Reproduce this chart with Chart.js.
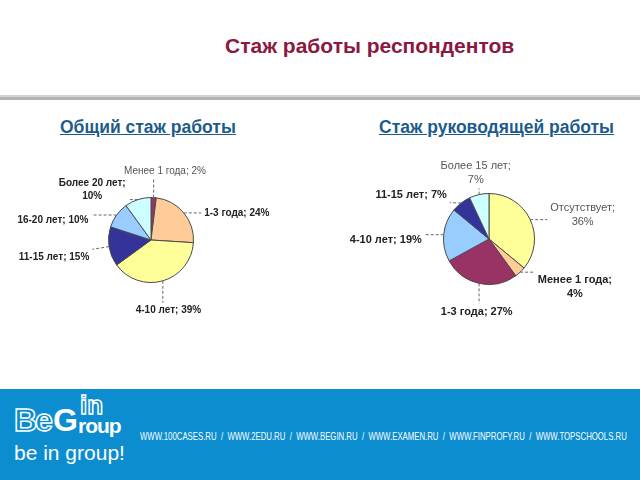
<!DOCTYPE html>
<html lang="ru">
<head>
<meta charset="utf-8">
<script src="https://cdn.jsdelivr.net/npm/chart.js@4.4.0/dist/chart.umd.min.js"></script>
<style>
  html, body { margin: 0; padding: 0; background: #fff; }
  body { width: 640px; height: 480px; position: relative; overflow: hidden; font-family: "Liberation Sans", Arial, sans-serif; }
  .title { position: absolute; left: 225px; top: 34px; font-size: 21px; font-weight: bold; color: #8c1840; white-space: nowrap; }
  .rule { position: absolute; left: 0; width: 640px; top: 95px; height: 2px; background: #d4d4d4; }
  .rule2 { position: absolute; left: 0; width: 640px; top: 97px; height: 3px; background: #b3b3b3; }
  .sub { position: absolute; top: 117px; font-size: 17.5px; font-weight: bold; color: #1d5b8c; text-decoration: underline; white-space: nowrap; }
  canvas { position: absolute; top: 140px; }
  .footer { position: absolute; left: 0; top: 389px; width: 640px; height: 91px; background: #0b8dd0; }
  .urls { position: absolute; left: 140px; top: 430px; color: #fff; font-size: 11px; white-space: nowrap; transform-origin: 0 0; }
  .logo { position: absolute; color: #fff; white-space: nowrap; line-height: 1; font-family: "Liberation Sans", Arial, sans-serif; }
  .outline { color: transparent; -webkit-text-stroke: 1.5px #fff; }
</style>
</head>
<body>
<div class="title">Стаж работы респондентов</div>
<div class="rule"></div>
<div class="rule2"></div>
<div class="sub" style="left:60px">Общий стаж работы</div>
<div class="sub" style="left:379px">Стаж руководящей работы</div>

<canvas id="left-pie" width="320" height="200" style="left:0"></canvas>
<canvas id="right-pie" width="320" height="200" style="left:320px"></canvas>

<div class="footer"></div>
<div class="logo outline" style="left:14px;top:404px;font-size:32px;font-weight:bold;letter-spacing:-2px">Be</div>
<div class="logo" style="left:53px;top:404px;font-size:32px;font-weight:bold">G</div>
<div class="logo outline" style="left:80px;top:392px;font-size:26px;font-weight:bold">in</div>
<div class="logo" style="left:78px;top:415px;font-size:21px;font-weight:bold;letter-spacing:-1px">roup</div>
<div class="logo" style="left:14px;top:442px;font-size:21px">be in group!</div>
<div class="urls" id="urls">WWW.100CASES.RU &nbsp;/&nbsp; WWW.2EDU.RU &nbsp;/&nbsp; WWW.BEGIN.RU &nbsp;/&nbsp; WWW.EXAMEN.RU &nbsp;/&nbsp; WWW.FINPROFY.RU &nbsp;/&nbsp; WWW.TOPSCHOOLS.RU</div>

<script>
// --- DATA ---
const leftCategories = ['Менее 1 года', '1-3 года', '4-10 лет', '11-15 лет', '16-20 лет', 'Более 20 лет'];
const leftValues = [2, 24, 39, 15, 10, 10];
const leftColors = ['#993366', '#ffcc99', '#ffff99', '#333399', '#99ccff', '#ccffff'];

const rightCategories = ['Отсутствует', 'Менее 1 года', '1-3 года', '4-10 лет', '11-15 лет', 'Более 15 лет'];
const rightValues = [36, 4, 27, 19, 7, 7];
const rightColors = ['#ffff99', '#ffcc99', '#993366', '#99ccff', '#333399', '#ccffff'];

// --- LABEL LAYOUT (text placement only) ---
const leftLabelLayout = {
    fontSize: 10,
    wrap: [5],
    light: [0],
    nudge: [[10, 0], [5, 17], [0, 4], [0, 6], [-12, 21], [-6, 22]]
};
const rightLabelLayout = {
    fontSize: 11,
    wrap: [0, 1, 5],
    light: [0, 5],
    nudge: [[2, 10], [4, -10], [2, 2], [-2, 8], [-2, 13], [1, 12]]
};

// fit the url line into the footer
const urls = document.getElementById('urls');
urls.style.transform = 'scaleX(' + (487 / urls.offsetWidth) + ')';

const calloutPlugin = {
    id: 'callouts',
    afterDatasetsDraw(chart, args, opts) {
        const ctx = chart.ctx;
        const meta = chart.getDatasetMeta(0);
        const cats = chart.data.labels;
        const vals = chart.data.datasets[0].data;
        const lh = Math.round(opts.fontSize * 1.3);
        ctx.save();
        meta.data.forEach((arc, i) => {
            const p = arc.getProps(['x', 'y', 'startAngle', 'endAngle', 'outerRadius'], true);
            const mid = (p.startAngle + p.endAngle) / 2;
            const ux = Math.cos(mid), uy = Math.sin(mid);
            const lines = opts.wrap.includes(i)
                ? [cats[i] + ';', vals[i] + '%']
                : [cats[i] + '; ' + vals[i] + '%'];
            const light = opts.light.includes(i);
            ctx.font = (light ? '' : 'bold ') + opts.fontSize + 'px "Liberation Sans", Arial, sans-serif';
            const w = Math.max(...lines.map(l => ctx.measureText(l).width));
            const h = lines.length * lh;
            const ax = p.x + ux * (p.outerRadius + opts.gap) + opts.nudge[i][0];
            const ay = p.y + uy * (p.outerRadius + opts.gap) + opts.nudge[i][1];
            const left = ux > 0.3 ? ax : (ux < -0.3 ? ax - w : ax - w / 2);
            const top = ay - h / 2 + uy * h / 2;

            // leader line from slice edge to nearest point of the text box
            const px = p.x + ux * p.outerRadius, py = p.y + uy * p.outerRadius;
            const tx = Math.min(Math.max(px, left - 3), left + w + 3);
            const ty = Math.min(Math.max(py, top - 1), top + h + 1);
            ctx.strokeStyle = '#666';
            ctx.lineWidth = 1;
            ctx.setLineDash([3, 2]);
            ctx.beginPath();
            ctx.moveTo(px, py);
            ctx.lineTo(tx, ty);
            ctx.stroke();
            ctx.setLineDash([]);

            ctx.fillStyle = light ? '#555' : '#222';
            ctx.textAlign = 'center';
            ctx.textBaseline = 'middle';
            lines.forEach((l, k) => ctx.fillText(l, left + w / 2, top + lh * (k + 0.5)));
        });
        ctx.restore();
    }
};

function makePie(id, labels, values, colors, padding, layout) {
    new Chart(document.getElementById(id), {
        type: 'pie',
        data: {
            labels: labels,
            datasets: [{
                data: values,
                backgroundColor: colors,
                borderColor: '#4a4a4a',
                borderWidth: 1
            }]
        },
        options: {
            responsive: false,
            animation: false,
            layout: { padding: padding },
            plugins: {
                legend: { display: false },
                tooltip: { enabled: false },
                callouts: Object.assign({ gap: 20 }, layout)
            }
        },
        plugins: [calloutPlugin]
    });
}

makePie('left-pie', leftCategories, leftValues, leftColors,
    { left: 0, right: 18, top: 57, bottom: 57 }, leftLabelLayout);
makePie('right-pie', rightCategories, rightValues, rightColors,
    { left: 18, right: 0, top: 53, bottom: 55 }, rightLabelLayout);
</script>
</body>
</html>
